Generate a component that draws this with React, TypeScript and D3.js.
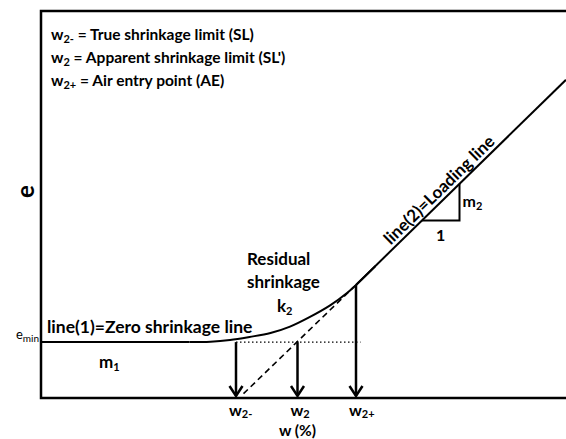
import React from "react";
import * as d3 from "d3";

// w (%) positions of the three marked water contents: w2-, w2, w2+
const wMarks = [13, 17.1, 21.0];
const wSubs = ["2-", "2", "2+"];
const eMin = 0.33;

// line(1): zero shrinkage line (constant e_min)
const zeroW = [0, 9.9];
// residual shrinkage curve
const residualW = [9.9, 11.3, 12.6, 13.9, 15.3, 16.6, 17.9, 19.3, 20.4, 21.0, 22.3];
const residualE = [0.33, 0.331, 0.335, 0.342, 0.351, 0.366, 0.388, 0.416, 0.444, 0.463, 0.507];
// line(2): loading line
const loadingW = [21.0, 35];
const loadingE = [0.463, 0.94];
// dashed extension of the loading line
const dashW = [13.5, 21.0];
const dashE = [0.21, 0.463];
// dotted e_min extension
const dotW = [13, 21.3];
// slope triangle
const triW = [25.4, 27.9];
const triE = [0.613, 0.698];

const legend = [
  { sub: "2-", text: " = True shrinkage limit (SL)" },
  { sub: "2", text: " =  Apparent shrinkage limit (SL')" },
  { sub: "2+", text: " = Air entry point (AE)" },
];

const W = 566;
const H = 439;
const font = "Lato, 'Open Sans', sans-serif";

export default function App() {
  const x = d3.scaleLinear().domain([0, 35]).range([41, 566]);
  const y = d3.scaleLinear().domain([0.2, 1.1]).range([398, 11]);
  const [w0, w1] = x.domain();
  const [e0, e1] = y.domain();

  const line = d3
    .line<[number, number]>()
    .x((d) => x(d[0]))
    .y((d) => y(d[1]));
  const curve = d3
    .line<[number, number]>()
    .x((d) => x(d[0]))
    .y((d) => y(d[1]))
    .curve(d3.curveCatmullRom.alpha(0.5));

  const frame = line([
    [w1, e1],
    [w0, e1],
    [w0, e0],
    [w1, e0],
  ]);

  const wMarkTop = [eMin, eMin, residualE[9]];

  // angle of the loading line on screen
  const ang =
    (Math.atan2(y(loadingE[1]) - y(loadingE[0]), x(loadingW[1]) - x(loadingW[0])) * 180) / Math.PI;
  const lw = 23.5;
  const le = loadingE[0] + ((loadingE[1] - loadingE[0]) * (lw - loadingW[0])) / (loadingW[1] - loadingW[0]);

  return (
    <svg
      width={W}
      height={H}
      style={{ position: "absolute", left: 0, top: 0, background: "#fff" }}
      fontFamily={font}
    >
      <path d={frame!} fill="none" stroke="#000" strokeWidth={2.5} />

      {/* zero shrinkage line */}
      <path d={line(zeroW.map((w) => [w, eMin]))!} fill="none" stroke="#000" strokeWidth={2} />
      {/* residual curve */}
      <path
        d={curve(residualW.map((w, i) => [w, residualE[i]]))!}
        fill="none"
        stroke="#000"
        strokeWidth={2}
      />
      {/* loading line */}
      <path d={line(loadingW.map((w, i) => [w, loadingE[i]]))!} fill="none" stroke="#000" strokeWidth={2} />
      {/* dashed extension */}
      <path
        d={line(dashW.map((w, i) => [w, dashE[i]]))!}
        fill="none"
        stroke="#000"
        strokeWidth={1.6}
        strokeDasharray="6,4"
      />
      {/* dotted e_min */}
      <path
        d={line(dotW.map((w) => [w, eMin]))!}
        fill="none"
        stroke="#000"
        strokeWidth={1.2}
        strokeDasharray="1.5,2.5"
      />

      {/* arrows */}
      {wMarks.map((w, i) => {
        const ax = x(w);
        const ay = y(e0) - 2;
        return (
          <g key={i}>
            <line x1={ax} x2={ax} y1={y(wMarkTop[i])} y2={ay} stroke="#000" strokeWidth={2.5} />
            <path
              d={`M${ax - 6.5},${ay - 10}L${ax},${ay}L${ax + 6.5},${ay - 10}`}
              fill="none"
              stroke="#000"
              strokeWidth={2.5}
              strokeLinejoin="miter"
            />
          </g>
        );
      })}

      {/* slope triangle */}
      <path
        d={line([
          [triW[0], triE[0]],
          [triW[1], triE[0]],
          [triW[1], triE[1]],
        ])!}
        fill="none"
        stroke="#000"
        strokeWidth={2}
      />
      <text x={(x(triW[0]) + x(triW[1])) / 2} y={y(triE[0]) + 21} fontSize={16} fontWeight="bold" textAnchor="middle">
        1
      </text>
      <text x={x(triW[1]) + 3} y={y((triE[0] + triE[1]) / 2) + 5} fontSize={16} fontWeight="bold">
        m<tspan fontSize={11} dy={3}>2</tspan>
      </text>

      {/* x labels */}
      {wMarks.map((w, i) => (
        <text key={i} x={x(w) - 7} y={416} fontSize={16} fontWeight="bold">
          w<tspan fontSize={11} dy={2}>{wSubs[i]}</tspan>
        </text>
      ))}
      <text x={x(wMarks[1])} y={436} fontSize={15.5} fontWeight="bold" textAnchor="middle">
        w (%)
      </text>

      {/* y label */}
      <text transform={`translate(34,${y(0.68)}) rotate(-90)`} fontSize={24} fontWeight="bold" textAnchor="middle">
        e
      </text>
      <text x={x(w0) - 2} y={y(eMin) - 3} fontSize={13} textAnchor="end">
        e<tspan fontSize={10} dy={3}>min</tspan>
      </text>

      {/* annotations */}
      <text x={47} y={y(eMin) - 9} fontSize={17.5} fontWeight="bold">
        line(1)=Zero shrinkage line
      </text>
      <text x={99} y={368} fontSize={17} fontWeight="bold">
        m<tspan fontSize={11} dy={3}>1</tspan>
      </text>
      <text x={247} y={265} fontSize={17} fontWeight="bold">
        Residual
      </text>
      <text x={247} y={288} fontSize={17} fontWeight="bold">
        shrinkage
      </text>
      <text x={277} y={312} fontSize={17} fontWeight="bold">
        k<tspan fontSize={11} dy={3}>2</tspan>
      </text>
      <text
        transform={`translate(${x(lw)},${y(le)}) rotate(${ang})`}
        dy={-4}
        fontSize={17}
        fontWeight="bold"
      >
        line(2)=Loading line
      </text>

      {/* legend */}
      {legend.map((l, i) => (
        <text key={i} x={51} y={40 + i * 23} fontSize={15.5} fontWeight="bold">
          w<tspan fontSize={11} dy={3}>{l.sub}</tspan>
          <tspan dy={-3}>{l.text}</tspan>
        </text>
      ))}
    </svg>
  );
}
